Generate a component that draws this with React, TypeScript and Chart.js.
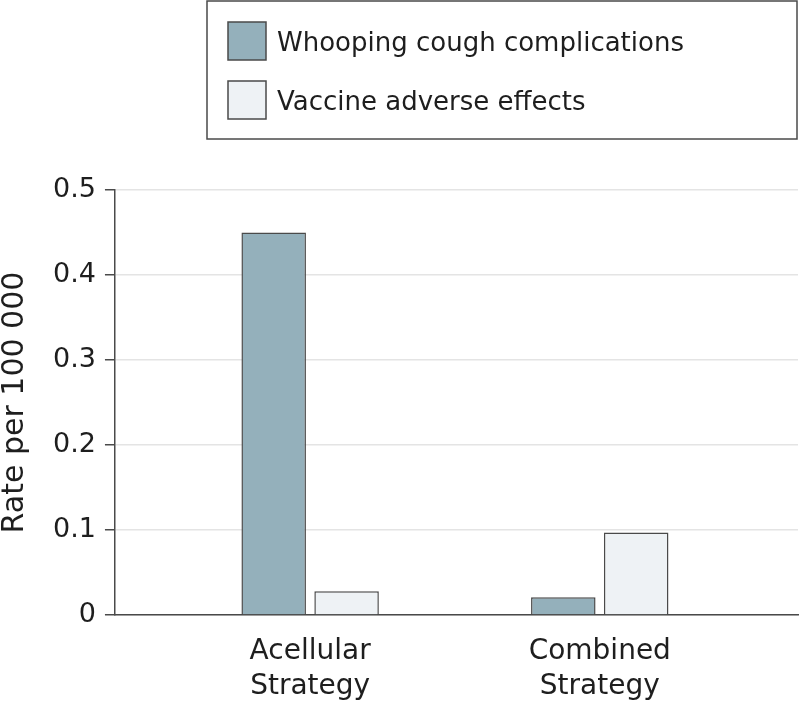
import React, { useEffect, useRef } from 'react';
import { Chart, registerables } from 'chart.js';

Chart.register(...registerables);

const categories: string[][] = [
  ['Acellular', 'Strategy'],
  ['Combined', 'Strategy'],
];
const categoryPositions = [1, 2];
const seriesNames = ['Whooping cough complications', 'Vaccine adverse effects'];
const whoopingCough = [0.45, 0.021];
const vaccineAdverse = [0.028, 0.097];
const yTickValues = [0, 0.1, 0.2, 0.3, 0.4, 0.5];
const yTickLabels = ['0', '0.1', '0.2', '0.3', '0.4', '0.5'];

const FONT = '"DejaVu Sans", sans-serif';
const TEXT = '#1e1e1e';
const DARK = '#4a4a4a';

const boxLegend = {
  id: 'boxLegend',
  afterDraw(chart: any) {
    const ctx = chart.ctx as CanvasRenderingContext2D;
    ctx.save();
    ctx.lineWidth = 1.5;
    ctx.strokeStyle = DARK;
    ctx.strokeRect(207, 1, 590, 138);
    chart.data.datasets.forEach((ds: any, i: number) => {
      const top = 22 + i * 59;
      ctx.fillStyle = ds.backgroundColor;
      ctx.fillRect(228, top, 38, 38);
      ctx.strokeStyle = ds.borderColor;
      ctx.lineWidth = 1.5;
      ctx.strokeRect(228, top, 38, 38);
      ctx.fillStyle = TEXT;
      ctx.font = `26px ${FONT}`;
      ctx.textBaseline = 'alphabetic';
      ctx.textAlign = 'left';
      ctx.fillText(ds.label, 277, top + 29);
    });
    ctx.restore();
  },
};

export default function App() {
  const ref = useRef<HTMLCanvasElement | null>(null);

  useEffect(() => {
    document.body.style.margin = '0';
    if (!ref.current) return;
    const chart = new Chart(ref.current, {
      type: 'bar',
      data: {
        datasets: [
          {
            label: seriesNames[0],
            data: categoryPositions.map((x, i) => ({ x, y: whoopingCough[i] })),
            backgroundColor: '#94b0bb',
            borderColor: DARK,
            borderWidth: 1.5,
          },
          {
            label: seriesNames[1],
            data: categoryPositions.map((x, i) => ({ x, y: vaccineAdverse[i] })),
            backgroundColor: '#eef2f5',
            borderColor: DARK,
            borderWidth: 1.5,
          },
        ],
      },
      options: {
        animation: false,
        responsive: false,
        devicePixelRatio: 1,
        categoryPercentage: 0.5034,
        barPercentage: 0.885,
        layout: { padding: { top: 190, right: 2, left: 0, bottom: -17 } },
        plugins: {
          legend: { display: false },
          tooltip: { enabled: false },
        },
        scales: {
          x: {
            type: 'linear',
            offset: false,
            min: 0.326,
            max: 2.6845,
            afterBuildTicks: (scale: any) => {
              scale.ticks = categoryPositions.map((v) => ({ value: v }));
            },
            grid: { display: false, drawTicks: false },
            border: { display: true, color: DARK, width: 1.5 },
            ticks: {
              autoSkip: false,
              maxRotation: 0,
              padding: 19,
              color: TEXT,
              font: { family: FONT, size: 28, lineHeight: 1.25 },
              callback: (value: any) => {
                const idx = categoryPositions.indexOf(Number(value));
                return idx >= 0 ? categories[idx] : '';
              },
            },
          },
          y: {
            type: 'linear',
            min: 0,
            max: 0.5,
            afterBuildTicks: (scale: any) => {
              scale.ticks = yTickValues.map((v) => ({ value: v }));
            },
            grid: {
              color: '#e4e4e4',
              lineWidth: 1.5,
              tickColor: DARK,
              tickLength: 10,
              drawTicks: true,
            },
            border: { display: true, color: DARK, width: 1.5 },
            ticks: {
              padding: 9,
              color: TEXT,
              font: { family: FONT, size: 27 },
              callback: (value: any) => {
                const idx = yTickValues.indexOf(Number(value));
                return idx >= 0 ? yTickLabels[idx] : '';
              },
            },
            title: {
              display: true,
              text: 'Rate per 100 000',
              color: TEXT,
              font: { family: FONT, size: 30, lineHeight: 1 },
              padding: { top: 0, bottom: 14 },
            },
          },
        },
      },
      plugins: [boxLegend],
    } as any);
    return () => chart.destroy();
  }, []);

  return (
    <div style={{ width: 800, height: 706 }}>
      <canvas ref={ref} width={800} height={706} />
    </div>
  );
}
